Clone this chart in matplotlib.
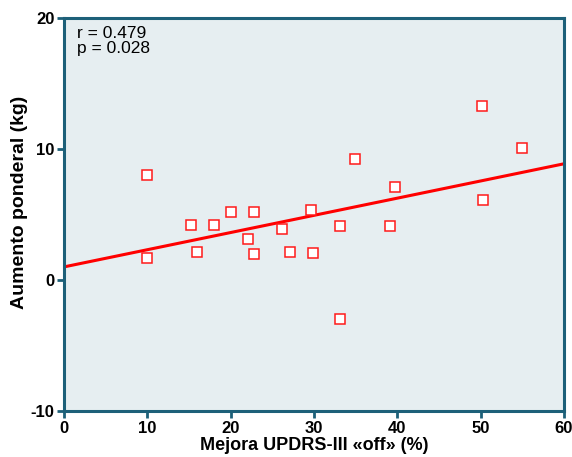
import numpy as np
import matplotlib
matplotlib.use('Agg')
import matplotlib.pyplot as plt

# Mejora UPDRS-III "off" (%) vs aumento ponderal (kg)
mejora = [10.0, 10.0, 15.2, 15.9, 18.0, 20.0, 22.1, 22.8, 22.8, 26.1, 27.1,
          29.6, 29.9, 33.1, 33.1, 34.9, 39.1, 39.7, 50.2, 50.3, 55.0]
aumento = [8.0, 1.7, 4.2, 2.1, 4.2, 5.2, 3.1, 5.2, 2.0, 3.9, 2.1,
           5.35, 2.05, 4.1, -3.0, 9.2, 4.1, 7.1, 13.3, 6.1, 10.1]
x_ticks = [0, 10, 20, 30, 40, 50, 60]
y_ticks = [-10, 0, 10, 20]
stats_text = 'r = 0.479\np = 0.028'

plt.rcParams['font.family'] = ['Liberation Sans', 'DejaVu Sans']
plt.rcParams['axes.unicode_minus'] = False
teal = '#1d6079'

fig = plt.figure(figsize=(5.72, 4.57), dpi=100)
ax = fig.add_axes([0.112, 0.101, 0.874, 0.86])
ax.set_facecolor('#e6eef1')

# regression line
slope, intercept = np.polyfit(mejora, aumento, 1)
xs = np.array([0, 60])
ax.plot(xs, intercept + slope * xs, color='#ff0000', lw=2.2, zorder=2)

ax.plot(mejora, aumento, 's', ms=6.5, mfc='white', mec='#ff1a1a', mew=1.1,
        linestyle='none', zorder=3)

ax.set_xlim(0, 60)
ax.set_ylim(-10, 20)
ax.set_xticks(x_ticks)
ax.set_yticks(y_ticks)

for s in ax.spines.values():
    s.set_color(teal)
    s.set_linewidth(2.2)
ax.tick_params(direction='out', length=5, width=2, color=teal,
               labelsize=12, pad=2)
for lab in ax.get_xticklabels() + ax.get_yticklabels():
    lab.set_fontweight('bold')

ax.set_xlabel('Mejora UPDRS-III «off» (%)', fontsize=13, fontweight='bold', labelpad=1)
ax.set_ylabel('Aumento ponderal (kg)', fontsize=14, fontweight='bold')
ax.yaxis.set_label_coords(-0.073, 0.53)

ax.text(0.025, 0.978, stats_text, transform=ax.transAxes, fontsize=12.5,
        va='top', ha='left', linespacing=1.0)

fig.savefig('out.png', dpi=100)
